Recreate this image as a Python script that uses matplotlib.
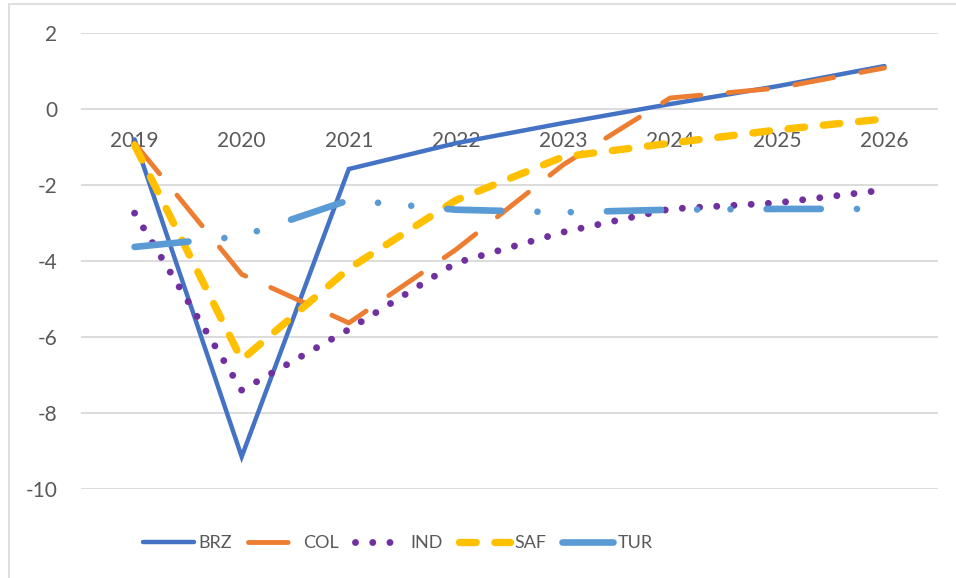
import matplotlib
matplotlib.use('Agg')
import matplotlib.pyplot as plt
from matplotlib.patches import Rectangle

plt.rcParams['font.family'] = ['Lato', 'DejaVu Sans']
plt.rcParams['lines.scale_dashes'] = False

years = ['2019', '2020', '2021', '2022', '2023', '2024', '2025', '2026']
brz = [-0.8, -9.15, -1.58, -0.9, -0.37, 0.13, 0.6, 1.13]
col = [-0.9, -4.35, -5.63, -3.7, -1.47, 0.29, 0.55, 1.08]
ind = [-2.74, -7.4, -5.8, -4.05, -3.24, -2.63, -2.47, -2.13]
saf = [-0.95, -6.6, -4.2, -2.4, -1.26, -0.9, -0.55, -0.26]
tur = [-3.63, -3.35, -2.4, -2.65, -2.72, -2.65, -2.63, -2.63]

text_color = '#595959'
grid_color = '#D9D9D9'

fig = plt.figure(figsize=(9.56, 5.78), dpi=100)
ax = fig.add_axes([81 / 956, 1 - 489 / 578, 857 / 956, 456 / 578])

# chart area border
fig.patches.append(Rectangle((9 / 956, -0.1), 1.2, 1 - 4 / 578 + 0.1,
                             transform=fig.transFigure, fill=False,
                             edgecolor=grid_color, linewidth=1.2))

x = list(range(len(years)))

ax.plot(x, brz, color='#4472C4', linewidth=3.2, label='BRZ',
        solid_capstyle='round', solid_joinstyle='miter', zorder=3)
ax.plot(x, col, color='#ED7D31', linewidth=3.5, label='COL',
        dashes=(28.5, 19.8), dash_capstyle='round', zorder=4)
ax.plot(x, ind, color='#7030A0', linewidth=5.0, label='IND',
        dashes=(0.01, 12.4), dash_capstyle='round', zorder=5)
ax.plot(x, saf, color='#FFC000', linewidth=5.3, label='SAF',
        dashes=(12, 13.5), dash_capstyle='round', zorder=6)
ax.plot(x, tur, color='#5B9BD5', linewidth=4.8, label='TUR',
        dashes=(39, 26, 0.01, 24, 0.01, 26), dash_capstyle='round', zorder=7)

ax.set_xlim(-0.5, 7.5)
ax.set_ylim(-10, 2)
ax.set_yticks(range(-10, 3, 2))
ax.set_yticklabels([str(v) for v in range(-10, 3, 2)])
ax.yaxis.grid(True, color=grid_color, linewidth=1.3)
ax.set_axisbelow(True)
ax.tick_params(axis='y', length=0, pad=17, labelsize=15, labelcolor=text_color)
ax.set_xticks([])
for s in ax.spines.values():
    s.set_visible(False)

# category labels sit just under the zero line
for xi, lab in zip(x, years):
    ax.annotate(lab, (xi, 0), xytext=(0, -15.5), textcoords='offset points',
                ha='center', va='top', fontsize=15, color=text_color, zorder=2)

leg = fig.legend(loc='center', bbox_to_anchor=(398 / 956, 1 - 543 / 578), ncol=5,
                 frameon=False, fontsize=13, handlelength=2.8,
                 columnspacing=0.9, handletextpad=0.25)
for t in leg.get_texts():
    t.set_color(text_color)

fig.savefig('out.png', dpi=100)
